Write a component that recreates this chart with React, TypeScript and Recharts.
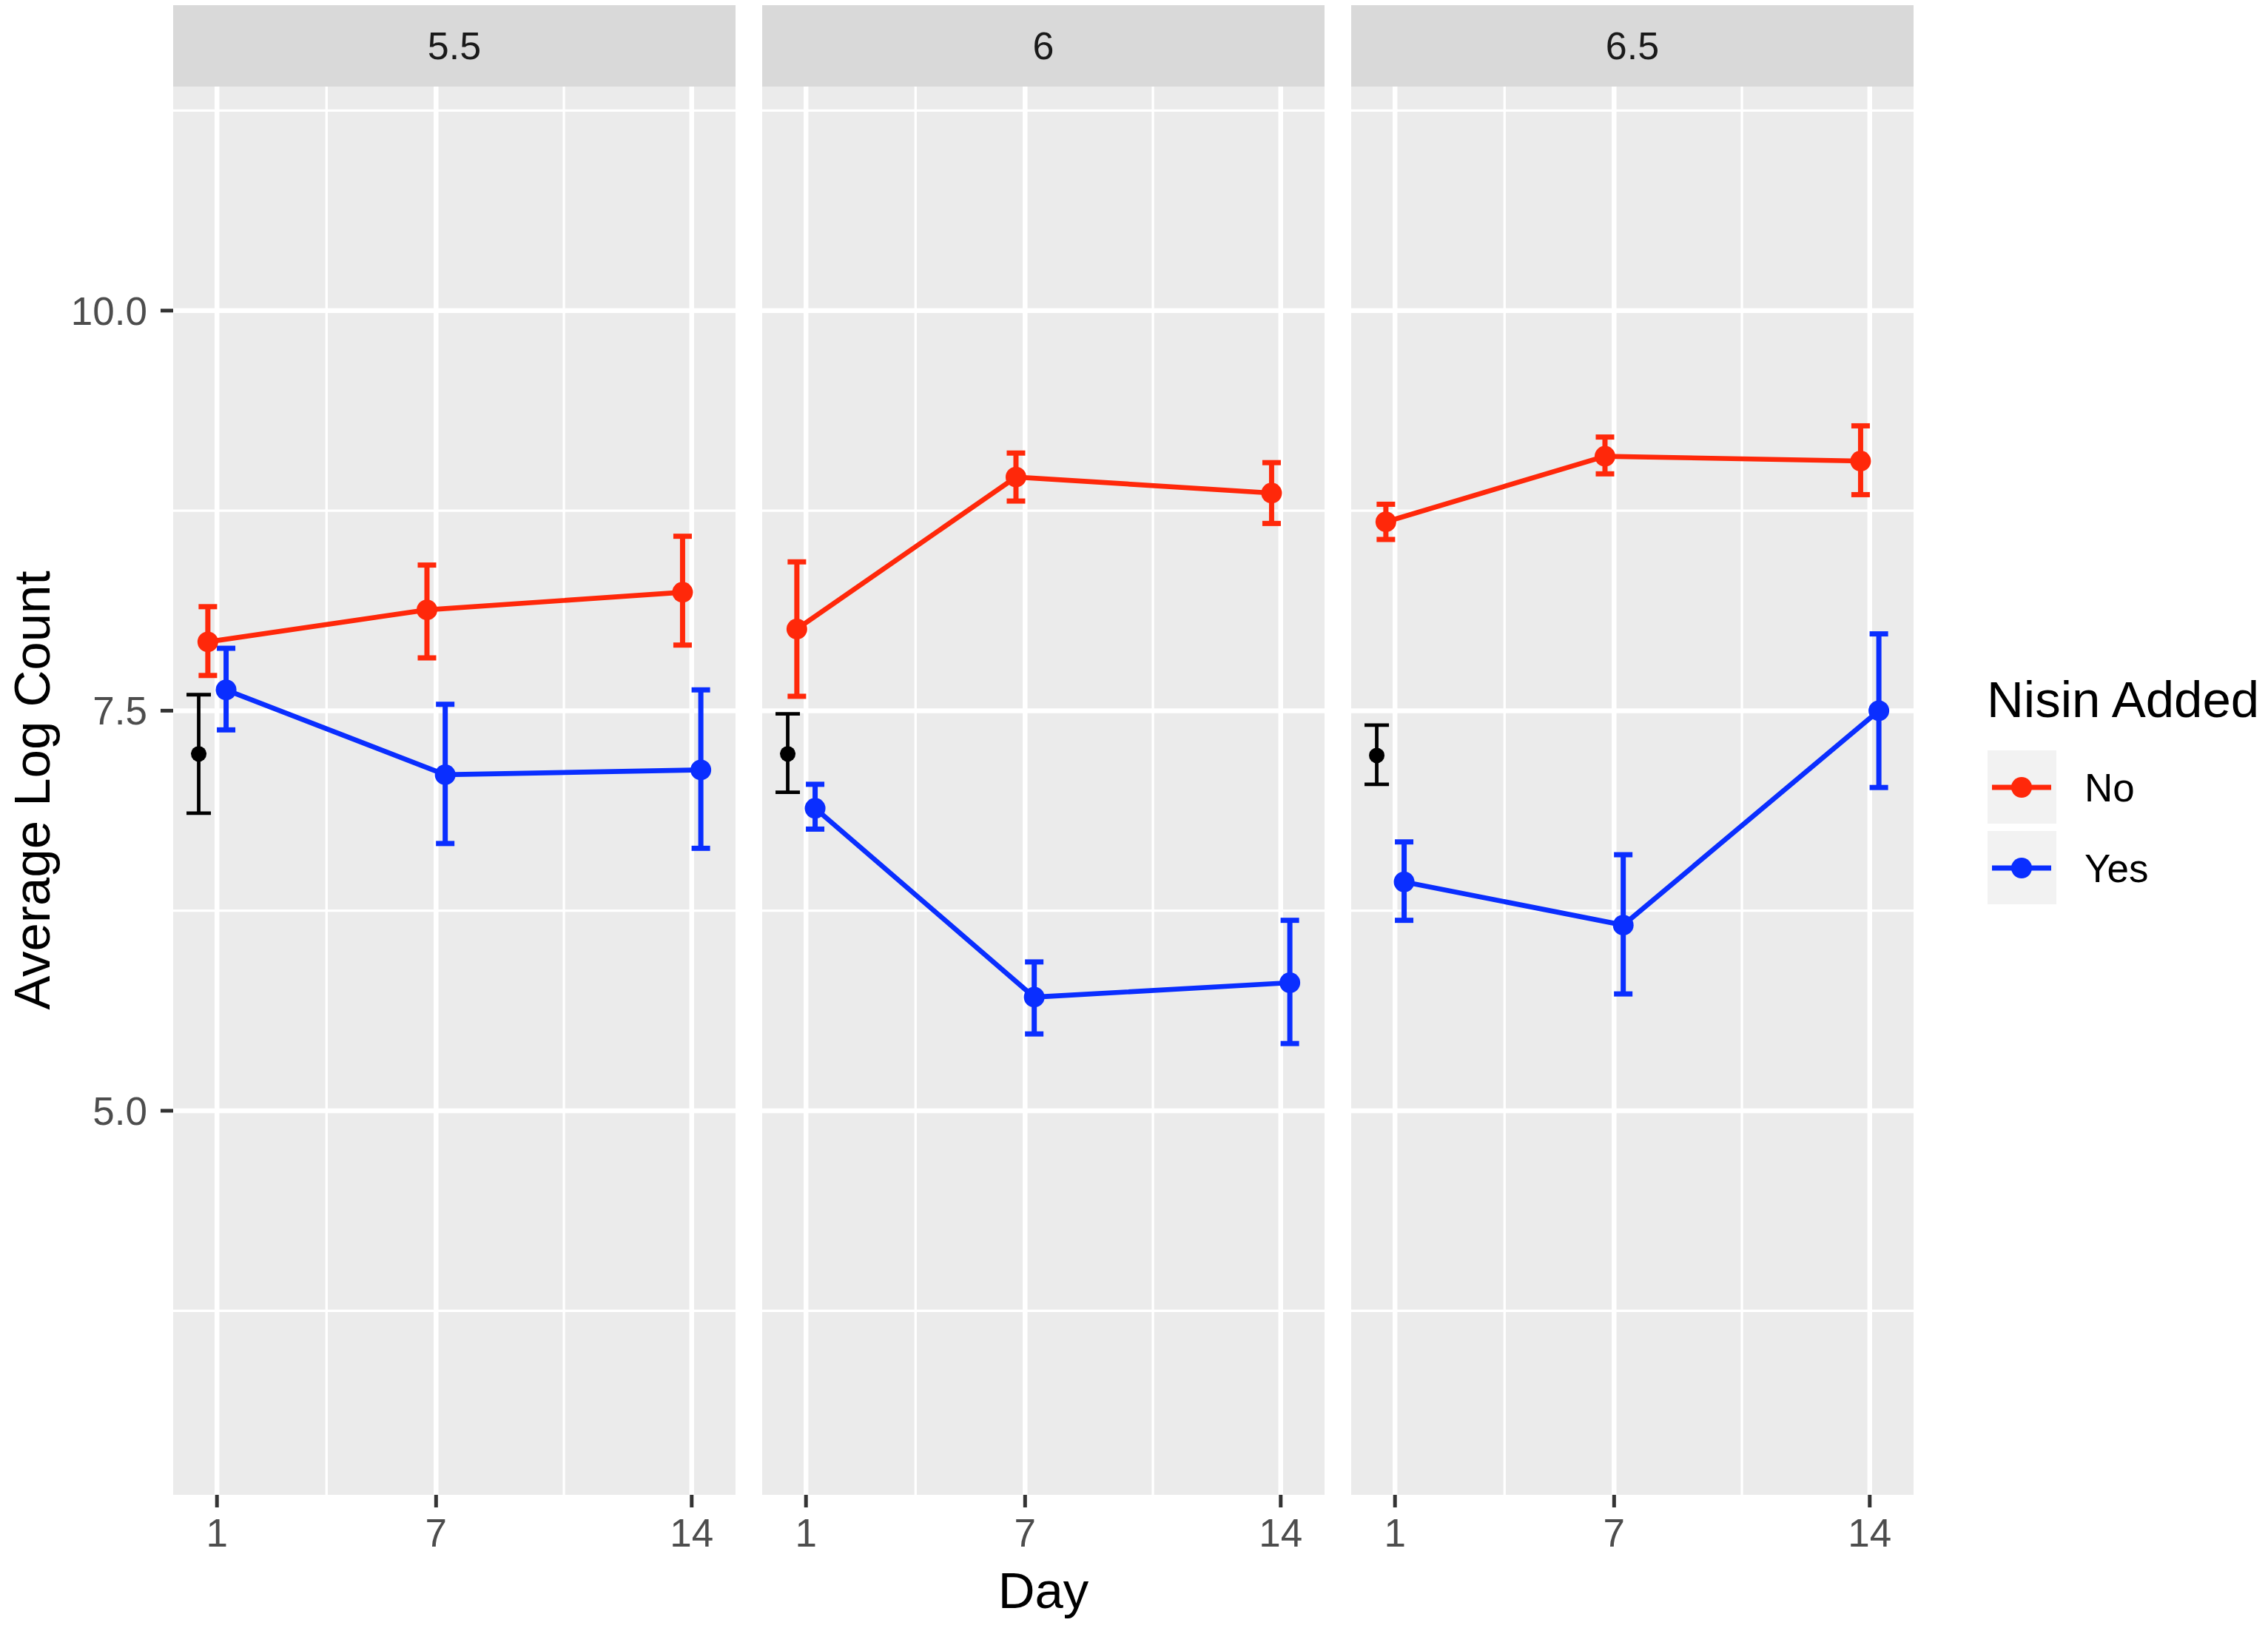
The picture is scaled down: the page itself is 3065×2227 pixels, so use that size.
import React from 'react';
import {
  ComposedChart,
  Scatter,
  ErrorBar,
  XAxis,
  YAxis,
  CartesianGrid
} from 'recharts';

// facets (pH) and days
const PH_LEVELS = ['5.5', '6', '6.5'];
const DAYS = [1, 7, 14];
const DAY_TICKS = [1, 7, 14];
const DAY_MINOR = [4, 10.5];
const Y_TICKS = [5, 7.5, 10];
const Y_MINOR = [3.75, 6.25, 8.75, 11.25];

// Nisin Added = No (per panel, per day)
const NO_MEAN = [[7.93, 8.13, 8.24], [8.01, 8.96, 8.86], [8.68, 9.09, 9.06]];
const NO_LOW = [[7.72, 7.83, 7.91], [7.59, 8.81, 8.67], [8.57, 8.98, 8.85]];
const NO_HIGH = [[8.15, 8.41, 8.59], [8.43, 9.11, 9.05], [8.79, 9.21, 9.28]];

// Nisin Added = Yes
const YES_MEAN = [[7.63, 7.10, 7.13], [6.89, 5.71, 5.80], [6.43, 6.16, 7.50]];
const YES_LOW = [[7.38, 6.67, 6.64], [6.76, 5.48, 5.42], [6.19, 5.73, 7.02]];
const YES_HIGH = [[7.89, 7.54, 7.63], [7.04, 5.93, 6.19], [6.68, 6.60, 7.98]];

// initial count (black point left of day 1)
const START_MEAN = [7.23, 7.23, 7.22];
const START_LOW = [6.86, 6.99, 7.04];
const START_HIGH = [7.60, 7.48, 7.41];

const SERIES_NAMES = ['No', 'Yes'];
const SERIES_COLORS = ['#FF280A', '#0A2EFF'];
const DODGE = [-0.25, 0.25];
const START_X = 0.5;

const FONT = '"Liberation Sans", Arial, Helvetica, sans-serif';
const PANEL_LEFT = [234, 1030, 1826];
const PANEL_W = 760;
const PANEL_TOP = 117;
const PANEL_H = 1903;
const AXIS_W = 234;
const X_AXIS_H = 130;

function rows(mean: number[], low: number[], high: number[], offset: number) {
  return DAYS.map((d, i) => ({
    x: d + offset,
    y: mean[i],
    err: [mean[i] - low[i], high[i] - mean[i]]
  }));
}

function Panel({ idx }: { idx: number }) {
  const first = idx === 0;
  const noData = rows(NO_MEAN[idx], NO_LOW[idx], NO_HIGH[idx], DODGE[0]);
  const yesData = rows(YES_MEAN[idx], YES_LOW[idx], YES_HIGH[idx], DODGE[1]);
  const startData = [{
    x: START_X,
    y: START_MEAN[idx],
    err: [START_MEAN[idx] - START_LOW[idx], START_HIGH[idx] - START_MEAN[idx]]
  }];
  const tickStyle = { fontSize: 53, fill: '#4D4D4D', fontFamily: FONT };
  const tickLine = { stroke: '#333333', strokeWidth: 5 };

  return (
    <div style={{ position: 'absolute', left: PANEL_LEFT[idx] - (first ? AXIS_W : 0), top: PANEL_TOP }}>
      <ComposedChart
        width={PANEL_W + (first ? AXIS_W : 0)}
        height={PANEL_H + X_AXIS_H}
        margin={{ top: 0, right: 0, bottom: 0, left: 0 }}
      >
        <CartesianGrid
          fill="#EBEBEB"
          stroke="#FFFFFF"
          strokeWidth={3.3}
          horizontalValues={Y_MINOR}
          verticalValues={DAY_MINOR}
        />
        <CartesianGrid
          stroke="#FFFFFF"
          strokeWidth={6.5}
          horizontalValues={Y_TICKS}
          verticalValues={DAY_TICKS}
        />
        <XAxis
          type="number"
          dataKey="x"
          domain={[-0.2, 15.2]}
          allowDataOverflow
          ticks={DAY_TICKS}
          interval={0}
          height={X_AXIS_H}
          axisLine={false}
          tickSize={17}
          tickMargin={15}
          tickLine={tickLine}
          tick={tickStyle}
        />
        <YAxis
          type="number"
          dataKey="y"
          domain={[2.6, 11.4]}
          allowDataOverflow
          ticks={Y_TICKS}
          interval={0}
          hide={!first}
          width={AXIS_W}
          axisLine={false}
          tickSize={17}
          tickMargin={18}
          tickLine={tickLine}
          tick={tickStyle}
          tickFormatter={(v: number) => v.toFixed(1)}
        />
        <Scatter
          data={startData}
          isAnimationActive={false}
          shape={(p: any) => <circle cx={p.cx} cy={p.cy} r={10.5} fill="#000000" />}
        >
          <ErrorBar dataKey="err" direction="y" width={16.5} stroke="#000000" strokeWidth={4.8} isAnimationActive={false} />
        </Scatter>
        {[noData, yesData].map((data, s) => (
          <Scatter
            key={SERIES_NAMES[s]}
            name={SERIES_NAMES[s]}
            data={data}
            isAnimationActive={false}
            line={{ stroke: SERIES_COLORS[s], strokeWidth: 6.7 }}
            shape={(p: any) => <circle cx={p.cx} cy={p.cy} r={14} fill={SERIES_COLORS[s]} />}
          >
            <ErrorBar
              dataKey="err"
              direction="y"
              width={12.5}
              stroke={SERIES_COLORS[s]}
              strokeWidth={7}
              isAnimationActive={false}
            />
          </Scatter>
        ))}
      </ComposedChart>
    </div>
  );
}

export default function App() {
  return (
    <div style={{ position: 'relative', width: 3065, height: 2227, background: '#FFFFFF', fontFamily: FONT, overflow: 'hidden' }}>
      <style>{'body{margin:0}'}</style>
      {PH_LEVELS.map((ph, i) => (
        <div
          key={ph}
          style={{
            position: 'absolute',
            left: PANEL_LEFT[i],
            top: 7,
            width: PANEL_W,
            height: 110,
            background: '#D9D9D9',
            color: '#1A1A1A',
            fontSize: 52,
            lineHeight: '110px',
            textAlign: 'center'
          }}
        >
          {ph}
        </div>
      ))}
      {PH_LEVELS.map((ph, i) => <Panel key={ph} idx={i} />)}

      <svg width={3065} height={2227} style={{ position: 'absolute', left: 0, top: 0, pointerEvents: 'none' }}>
        <text
          transform="translate(67,1068) rotate(-90)"
          textAnchor="middle"
          fontSize={69}
          fontFamily={FONT}
          fill="#000000"
        >
          Average Log Count
        </text>
        <text x={1410} y={2173} textAnchor="middle" fontSize={69} fontFamily={FONT} fill="#000000">
          Day
        </text>

        <text x={2685} y={969} fontSize={69} fontFamily={FONT} fill="#000000">
          Nisin Added
        </text>
        {SERIES_NAMES.map((name, s) => {
          const top = 1014 + s * 109;
          const cy = top + 50;
          return (
            <g key={name}>
              <rect x={2686} y={top} width={93} height={99} fill="#F2F2F2" />
              <line x1={2692} x2={2772} y1={cy} y2={cy} stroke={SERIES_COLORS[s]} strokeWidth={7} />
              <circle cx={2732} cy={cy} r={14} fill={SERIES_COLORS[s]} />
              <text x={2817} y={cy + 19} fontSize={53} fontFamily={FONT} fill="#000000">
                {name}
              </text>
            </g>
          );
        })}
      </svg>
    </div>
  );
}
